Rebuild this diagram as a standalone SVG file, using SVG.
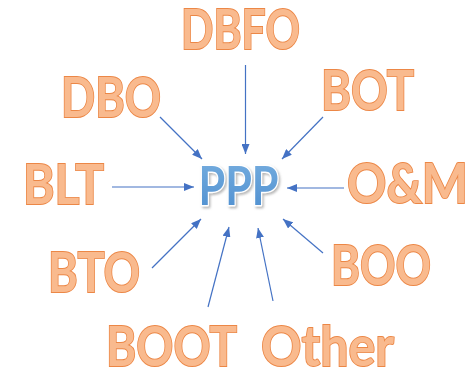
<svg xmlns="http://www.w3.org/2000/svg" width="472" height="372" viewBox="0 0 472 372">
<style>
.lbl{font-family:Lato,"Open Sans","Liberation Sans",sans-serif;font-weight:700;font-size:56px;fill:#F9BA8E;stroke:#EC8746;stroke-width:1.9;paint-order:stroke}
.ppp{font-family:Lato,"Open Sans","Liberation Sans",sans-serif;font-weight:700;font-size:54px}
.con line{stroke:#4472C4;stroke-width:1.2;fill:none}
</style>
<defs>
<marker id="ah" viewBox="0 0 10 8" refX="10" refY="4" markerWidth="10" markerHeight="8" markerUnits="userSpaceOnUse" orient="auto">
<path d="M0,0 L10,4 L0,8 Z" fill="#4472C4"/>
</marker>
<linearGradient id="pg" x1="0" y1="0" x2="0" y2="1">
<stop offset="0" stop-color="#79B0E0"/>
<stop offset="1" stop-color="#4C8DCF"/>
</linearGradient>
<filter id="sh" x="-10%" y="-10%" width="130%" height="140%">
<feDropShadow dx="1.5" dy="1.8" stdDeviation="0.8" flood-color="#9A9A9A" flood-opacity="0.7"/>
</filter>
</defs>
<rect width="472" height="372" fill="#ffffff"/>
<g class="con">
<line x1="245.5" y1="65" x2="245.5" y2="154" marker-end="url(#ah)"/>
<line x1="160" y1="117" x2="202" y2="159" marker-end="url(#ah)"/>
<line x1="112" y1="187" x2="194" y2="187" marker-end="url(#ah)"/>
<line x1="323" y1="117" x2="282" y2="159" marker-end="url(#ah)"/>
<line x1="344" y1="188" x2="287" y2="188" marker-end="url(#ah)"/>
<line x1="152" y1="268" x2="201" y2="219" marker-end="url(#ah)"/>
<line x1="208" y1="307" x2="229" y2="227" marker-end="url(#ah)"/>
<line x1="273" y1="301" x2="258" y2="228" marker-end="url(#ah)"/>
<line x1="323" y1="253" x2="283" y2="219" marker-end="url(#ah)"/>
</g>
<g id="ppp">
<text class="ppp" x="198.5" y="205" textLength="80" lengthAdjust="spacingAndGlyphs" fill="url(#pg)" stroke="#ffffff" stroke-width="3" stroke-linejoin="round" style="paint-order:stroke" filter="url(#sh)">PPP</text>
</g>
<g id="dbfo"><text class="lbl" x="181" y="49" textLength="119" lengthAdjust="spacingAndGlyphs">DBFO</text></g>
<g id="dbo"><text class="lbl" x="61" y="117" textLength="100" lengthAdjust="spacingAndGlyphs">DBO</text></g>
<g id="bot"><text class="lbl" x="321" y="110" textLength="93" lengthAdjust="spacingAndGlyphs">BOT</text></g>
<g id="blt"><text class="lbl" x="23" y="204" textLength="81" lengthAdjust="spacingAndGlyphs">BLT</text></g>
<g id="om"><text class="lbl" x="347" y="203" textLength="121" lengthAdjust="spacingAndGlyphs">O&amp;M</text></g>
<g id="bto"><text class="lbl" x="48" y="292" textLength="92" lengthAdjust="spacingAndGlyphs">BTO</text></g>
<g id="boo"><text class="lbl" x="331" y="285" textLength="100" lengthAdjust="spacingAndGlyphs">BOO</text></g>
<g id="boot"><text class="lbl" x="106" y="366" textLength="131" lengthAdjust="spacingAndGlyphs">BOOT</text></g>
<g id="other"><text class="lbl" x="261" y="366" textLength="133" lengthAdjust="spacingAndGlyphs">Other</text></g>
</svg>
